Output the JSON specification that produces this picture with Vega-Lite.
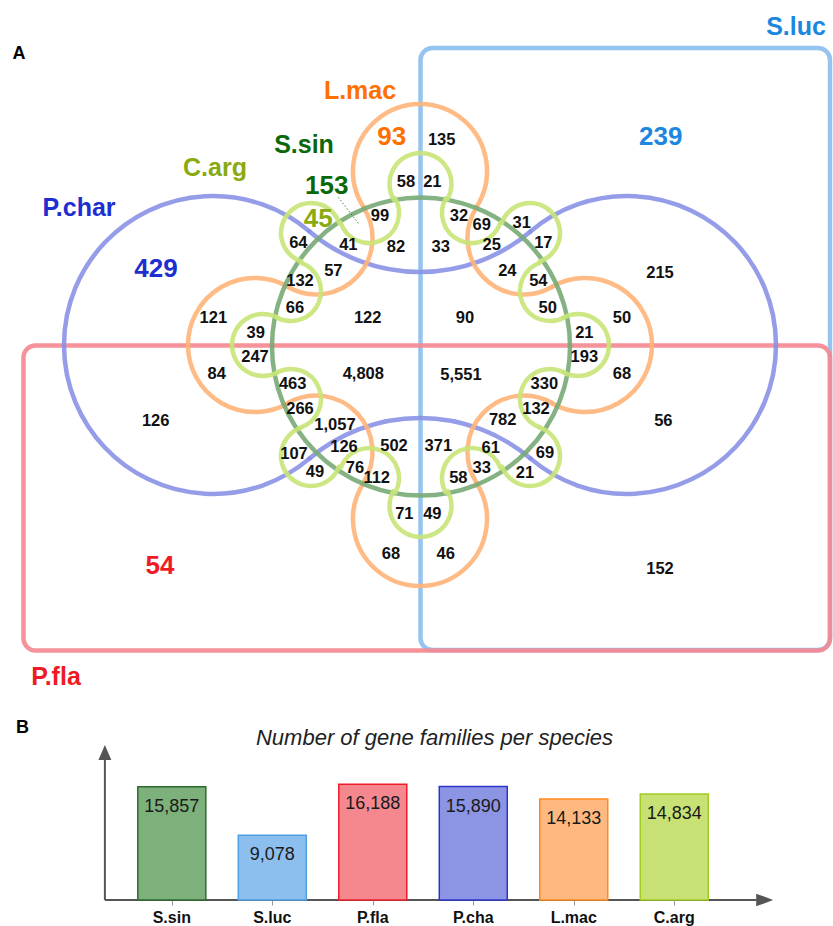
{
  "$schema": "https://vega.github.io/schema/vega-lite/v6.json",
  "padding": 0,
  "spacing": 20,
  "bounds": "flush",
  "background": "white",
  "config": {"view": {"stroke": null}, "font": "Liberation Sans"},
  "datasets": {
    "frames": [
      {"set": "S.luc", "x": 0.5, "x2": 410, "y": 297, "y2": -305},
      {"set": "P.fla", "x": -396.5, "x2": 410, "y": -0.5, "y2": -305.5}
    ],
    "arcs": [
      {"set": "P.char", "x": -207, "y": 0, "r": 149, "a0": 139.7, "a1": 400.3},
      {"set": "P.char", "x": 207, "y": 0, "r": 149, "a0": -40.3, "a1": 220.3},
      {"set": "P.char", "x": 0, "y": 243.9, "r": 170.9, "a0": 139.7, "a1": 220.3},
      {"set": "P.char", "x": 0, "y": -243.9, "r": 170.9, "a0": -40.3, "a1": 40.3},
      {"set": "L.mac", "x": 0, "y": 174, "r": 67, "a0": -122.8, "a1": 122.8},
      {"set": "L.mac", "x": -165, "y": 0, "r": 67, "a0": 150.3, "a1": 389.7},
      {"set": "L.mac", "x": 165, "y": 0, "r": 67, "a0": -29.7, "a1": 209.7},
      {"set": "L.mac", "x": 0, "y": -174, "r": 67, "a0": 57.2, "a1": 302.8},
      {"set": "L.mac", "x": -104, "y": 107, "r": 56.5, "a0": 57.2, "a1": 209.7},
      {"set": "L.mac", "x": 104, "y": 107, "r": 56.5, "a0": 150.3, "a1": 302.8},
      {"set": "L.mac", "x": -104, "y": -107, "r": 56.5, "a0": -29.7, "a1": 122.8},
      {"set": "L.mac", "x": 104, "y": -107, "r": 56.5, "a0": 237.2, "a1": 389.7},
      {"set": "S.sin", "x": 1, "y": -1.5, "r": 149, "a0": 0, "a1": 360},
      {"set": "C.arg", "x": 0.5, "y": 161, "r": 31, "a0": -119.4, "a1": 119.4},
      {"set": "C.arg", "x": 52, "y": 132, "r": 30, "a0": 109.0, "a1": 299.4},
      {"set": "C.arg", "x": 110, "y": 112, "r": 30, "a0": -71.0, "a1": 161.0},
      {"set": "C.arg", "x": 130, "y": 54, "r": 30, "a0": 152.6, "a1": 341.0},
      {"set": "C.arg", "x": 158, "y": 0, "r": 31, "a0": -27.4, "a1": 207.4},
      {"set": "C.arg", "x": 130, "y": -54, "r": 30, "a0": 199.3, "a1": 387.4},
      {"set": "C.arg", "x": 110, "y": -111, "r": 30, "a0": 19.3, "a1": 249.2},
      {"set": "C.arg", "x": 52, "y": -133, "r": 30, "a0": 241.5, "a1": 429.2},
      {"set": "C.arg", "x": 0.5, "y": -161, "r": 31, "a0": 61.5, "a1": 298.5},
      {"set": "C.arg", "x": -51, "y": -133, "r": 30, "a0": 290.8, "a1": 478.5},
      {"set": "C.arg", "x": -109, "y": -111, "r": 30, "a0": 110.8, "a1": 340.7},
      {"set": "C.arg", "x": -129, "y": -54, "r": 30, "a0": 332.6, "a1": 520.7},
      {"set": "C.arg", "x": -157, "y": 0, "r": 31, "a0": 152.6, "a1": 387.4},
      {"set": "C.arg", "x": -129, "y": 54, "r": 30, "a0": 19.0, "a1": 207.4},
      {"set": "C.arg", "x": -109, "y": 112, "r": 30, "a0": 199.0, "a1": 431.0},
      {"set": "C.arg", "x": -51, "y": 132, "r": 30, "a0": 60.6, "a1": 251.0}
    ],
    "leader": [{"x": -81.7, "y": 147.7, "x2": -61.7, "y2": 121.7}],
    "setNames": [
      {"set": "P.char", "x": -341, "y": 137.3},
      {"set": "C.arg", "x": -205, "y": 177},
      {"set": "S.sin", "x": -116, "y": 200},
      {"set": "L.mac", "x": -60, "y": 254},
      {"set": "S.luc", "x": 376, "y": 318.3},
      {"set": "P.fla", "x": -364, "y": -331.7}
    ],
    "unique": [
      {"set": "P.char", "count": 429, "x": -264, "y": 75.7},
      {"set": "C.arg", "count": 45, "x": -101.7, "y": 125.7},
      {"set": "S.sin", "count": 153, "x": -93.3, "y": 159},
      {"set": "L.mac", "count": 93, "x": -28.3, "y": 208.3},
      {"set": "S.luc", "count": 239, "x": 240.7, "y": 208.3},
      {"set": "P.fla", "count": 54, "x": -260, "y": -221}
    ],
    "regions": [
      {"count": 135, "x": 21.7, "y": 205},
      {"count": 58, "x": -14, "y": 163.3},
      {"count": 21, "x": 12.3, "y": 163.3},
      {"count": 99, "x": -40, "y": 129},
      {"count": 32, "x": 39, "y": 129},
      {"count": 69, "x": 61.7, "y": 120},
      {"count": 31, "x": 101.7, "y": 122.3},
      {"count": 64, "x": -121.7, "y": 102.3},
      {"count": 41, "x": -71.7, "y": 100},
      {"count": 82, "x": -24, "y": 97.7},
      {"count": 33, "x": 20.7, "y": 97.7},
      {"count": 25, "x": 71.7, "y": 100},
      {"count": 17, "x": 123.3, "y": 102.3},
      {"count": 57, "x": -86.7, "y": 74.3},
      {"count": 24, "x": 87.3, "y": 74.3},
      {"count": 132, "x": -120, "y": 64.3},
      {"count": 54, "x": 118.3, "y": 64.3},
      {"count": 215, "x": 240, "y": 72.3},
      {"count": 66, "x": -125, "y": 37.3},
      {"count": 50, "x": 127.7, "y": 37.3},
      {"count": 121, "x": -206.7, "y": 26.7},
      {"count": 122, "x": -52.3, "y": 26.7},
      {"count": 90, "x": 45, "y": 26.7},
      {"count": 50, "x": 202, "y": 26.7},
      {"count": 39, "x": -164.3, "y": 11.7},
      {"count": 21, "x": 164.3, "y": 11.7},
      {"count": 247, "x": -165, "y": -11.7},
      {"count": 193, "x": 164.3, "y": -11.7},
      {"count": 84, "x": -203.3, "y": -29.3},
      {"count": 4808, "x": -56.7, "y": -29.3},
      {"count": 5551, "x": 41, "y": -30},
      {"count": 68, "x": 202, "y": -29.3},
      {"count": 463, "x": -127.3, "y": -39.3},
      {"count": 330, "x": 124.3, "y": -39.3},
      {"count": 266, "x": -120, "y": -64.3},
      {"count": 132, "x": 116, "y": -64.3},
      {"count": 126, "x": -264.3, "y": -75.7},
      {"count": 782, "x": 82.7, "y": -75},
      {"count": 56, "x": 243.3, "y": -75.7},
      {"count": 1057, "x": -85, "y": -80},
      {"count": 126, "x": -76, "y": -101.7},
      {"count": 502, "x": -26, "y": -100.7},
      {"count": 371, "x": 18.3, "y": -100.7},
      {"count": 61, "x": 70.7, "y": -102.7},
      {"count": 107, "x": -126, "y": -109},
      {"count": 69, "x": 125, "y": -107.7},
      {"count": 49, "x": -105, "y": -127.3},
      {"count": 76, "x": -65, "y": -123.3},
      {"count": 112, "x": -43.3, "y": -132.7},
      {"count": 58, "x": 38.3, "y": -132.7},
      {"count": 33, "x": 61.7, "y": -123.3},
      {"count": 21, "x": 105, "y": -128.3},
      {"count": 71, "x": -15.7, "y": -169},
      {"count": 49, "x": 12.3, "y": -169},
      {"count": 68, "x": -29, "y": -209},
      {"count": 46, "x": 25.7, "y": -209},
      {"count": 152, "x": 240, "y": -224.3}
    ],
    "panels": [
      {"letter": "A", "x": -401, "y": 291},
      {"letter": "B", "x": -397.6, "y": -383}
    ],
    "families": [
      {"species": "S.sin", "pos": 1, "count": 15857},
      {"species": "S.luc", "pos": 2, "count": 9078},
      {"species": "P.fla", "pos": 3, "count": 16188},
      {"species": "P.cha", "pos": 4, "count": 15890},
      {"species": "L.mac", "pos": 5, "count": 14133},
      {"species": "C.arg", "pos": 6, "count": 14834}
    ],
    "axisLines": [
      {"pos": 0.334, "count": 0, "pos2": 6.82, "count2": 0},
      {"pos": 0.334, "count": 0, "pos2": 0.334, "count2": 19600}
    ],
    "arrowHeads": [
      {"dir": "right", "pos": 6.9, "count": 0},
      {"dir": "up", "pos": 0.334, "count": 20650}
    ]
  },
  "vconcat": [
    {
      "width": 833,
      "height": 735,
      "encoding": {
        "x": {"field": "x", "type": "quantitative", "scale": {"domain": [-420, 413], "nice": false, "zero": false}, "axis": null},
        "y": {"field": "y", "type": "quantitative", "scale": {"domain": [-390, 345], "nice": false, "zero": false}, "axis": null}
      },
      "layer": [
        {
          "data": {"name": "frames"},
          "mark": {"type": "rect", "fill": "transparent", "strokeWidth": 4.5, "cornerRadius": 12, "strokeOpacity": 0.9},
          "encoding": {
            "x2": {"field": "x2"},
            "y2": {"field": "y2"},
            "stroke": {"field": "set", "type": "nominal", "legend": null,
              "scale": {"domain": ["P.char", "S.luc", "P.fla", "L.mac", "S.sin", "C.arg"],
                        "range": ["#8991e6", "#8abeee", "#f5878f", "#ffb478", "#78aa76", "#c8e478"]}}
          }
        },
        {
          "data": {"name": "arcs"},
          "mark": {"type": "arc", "fill": "transparent", "strokeWidth": 4.5, "strokeJoin": "round", "strokeCap": "round", "strokeOpacity": 0.9},
          "encoding": {
            "radius": {"field": "r", "type": "quantitative", "scale": {"type": "linear", "domain": [0, 200], "range": [0, 200], "zero": true, "nice": false}},
            "radius2": {"field": "r"},
            "theta": {"field": "a0", "type": "quantitative", "stack": null, "scale": {"type": "linear", "domain": [0, 360], "range": [0, 6.283185307179586], "zero": false, "nice": false}},
            "theta2": {"field": "a1"},
            "stroke": {"field": "set", "type": "nominal", "legend": null}
          }
        },
        {
          "data": {"name": "leader"},
          "mark": {"type": "rule", "color": "#3f8a3f", "strokeWidth": 1, "strokeDash": [1.5, 2]},
          "encoding": {
            "x2": {"field": "x2"},
            "y2": {"field": "y2"}
          }
        },
        {
          "data": {"name": "setNames"},
          "mark": {"type": "text", "fontSize": 25, "fontWeight": "bold", "baseline": "middle", "align": "center"},
          "encoding": {
            "text": {"field": "set", "type": "nominal"},
            "fill": {"field": "set", "type": "nominal", "legend": null,
              "scale": {"domain": ["P.char", "S.luc", "P.fla", "L.mac", "S.sin", "C.arg"],
                        "range": ["#1f2ecf", "#1c87e0", "#ee1b24", "#ff7000", "#0a680a", "#8aaa12"]}}
          }
        },
        {
          "data": {"name": "unique"},
          "mark": {"type": "text", "fontSize": 26, "fontWeight": "bold", "baseline": "middle", "align": "center"},
          "encoding": {
            "text": {"field": "count", "type": "quantitative", "format": ","},
            "fill": {"field": "set", "type": "nominal", "legend": null}
          }
        },
        {
          "data": {"name": "regions"},
          "mark": {"type": "text", "fontSize": 16.5, "fontWeight": "bold", "baseline": "middle", "align": "center", "color": "#111111"},
          "encoding": {
            "text": {"field": "count", "type": "quantitative", "format": ","}
          }
        },
        {
          "data": {"name": "panels"},
          "mark": {"type": "text", "fontSize": 18, "fontWeight": "bold", "baseline": "middle", "align": "center", "color": "#000000"},
          "encoding": {
            "text": {"field": "letter", "type": "nominal"}
          }
        }
      ]
    },
    {
      "width": 833,
      "height": 145,
      "title": {"text": "Number of gene families per species", "font": "Liberation Sans", "fontStyle": "italic", "fontWeight": "normal", "fontSize": 22, "color": "#222222", "anchor": "middle", "dx": 18, "dy": 9, "offset": 4},
      "encoding": {
        "x": {"field": "pos", "type": "quantitative", "scale": {"domain": [-0.66, 7.53], "nice": false, "zero": false},
              "axis": {"values": [1, 2, 3, 4, 5, 6], "labels": false, "domain": false, "grid": false, "ticks": true, "tickSize": 5, "tickColor": "#9a9a9a", "tickWidth": 1, "title": null}},
        "y": {"field": "count", "type": "quantitative", "scale": {"domain": [0, 20300], "nice": false, "zero": true}, "axis": null}
      },
      "layer": [
        {
          "data": {"name": "axisLines"},
          "mark": {"type": "rule", "color": "#555555", "strokeWidth": 2},
          "encoding": {
            "x2": {"field": "pos2"},
            "y2": {"field": "count2"}
          }
        },
        {
          "data": {"name": "arrowHeads"},
          "mark": {"type": "point", "filled": true, "color": "#555555", "size": 289, "opacity": 1},
          "encoding": {
            "shape": {"field": "dir", "type": "nominal", "legend": null,
              "scale": {"domain": ["right", "up"], "range": ["M-1,-0.74L1,0L-1,0.74Z", "M0,-0.88L0.76,0.88L-0.76,0.88Z"]}}
          }
        },
        {
          "data": {"name": "families"},
          "mark": {"type": "bar", "width": 68, "strokeWidth": 1.5},
          "encoding": {
            "fill": {"field": "species", "type": "nominal", "legend": null,
              "scale": {"domain": ["S.sin", "S.luc", "P.fla", "P.cha", "L.mac", "C.arg"],
                        "range": ["#7db07b", "#8cbfee", "#f5888f", "#8c94e4", "#ffb980", "#c8e174"]}},
            "stroke": {"field": "species", "type": "nominal", "legend": null,
              "scale": {"domain": ["S.sin", "S.luc", "P.fla", "P.cha", "L.mac", "C.arg"],
                        "range": ["#2d6a2d", "#4d9fe6", "#ee1c2b", "#2b35cc", "#ff8a1f", "#a0cc20"]}}
          }
        },
        {
          "data": {"name": "families"},
          "mark": {"type": "text", "fontSize": 18, "baseline": "middle", "align": "center", "dy": 20, "color": "#1a1a1a"},
          "encoding": {
            "text": {"field": "count", "type": "quantitative", "format": ","}
          }
        },
        {
          "data": {"name": "families"},
          "mark": {"type": "text", "fontSize": 16, "fontWeight": "bold", "baseline": "middle", "align": "center", "dy": 18, "color": "#111111"},
          "encoding": {
            "y": {"datum": 0, "type": "quantitative"},
            "text": {"field": "species", "type": "nominal"}
          }
        }
      ]
    }
  ],
  "resolve": {"scale": {"x": "independent", "y": "independent", "stroke": "independent", "fill": "independent"}}
}
